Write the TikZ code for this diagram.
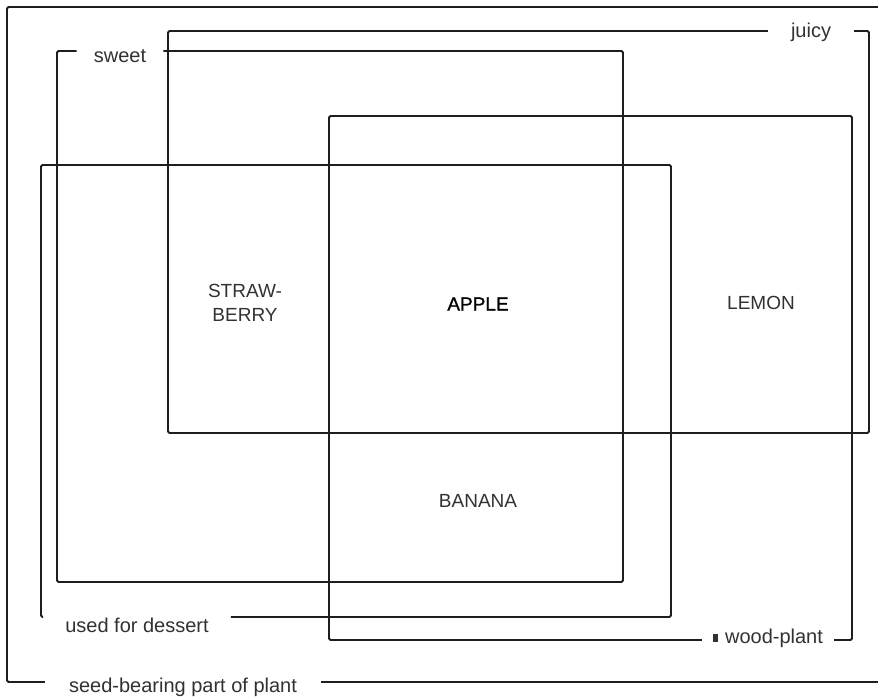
\documentclass[tikz,border=0pt]{standalone}
\usepackage{fontspec}
\setmainfont{Liberation Sans}
\usepackage{tikz}
\usetikzlibrary{positioning,calc}
\definecolor{linegray}{RGB}{30,30,30}
\definecolor{textgray}{RGB}{50,50,50}
\tikzset{
  setline/.style={line width=1.8pt,draw=linegray,rounded corners=1.5pt},
  setlabel/.style={inner ysep=0pt,font=\fontsize{20}{24}\selectfont,text=textgray},
  fruitlabel/.style={inner sep=0pt,align=center,font=\fontsize{19}{24}\selectfont,text=textgray}
}

\begin{document}
\begin{tikzpicture}[x=1pt,y=-1pt]
  \useasboundingbox (0,0) rectangle (878,696);
  \fill[white] (0,0) rectangle (878,696);

  %% Corners of the sets
  \coordinate (oTL) at (7,7);     \coordinate (oTR) at (878,7);
  \coordinate (oBL) at (7,682);   \coordinate (oBR) at (878,682);
  \coordinate (jTL) at (168,31);  \coordinate (jTR) at (869,31);
  \coordinate (jBL) at (168,433); \coordinate (jBR) at (869,433);
  \coordinate (sTL) at (57,51);   \coordinate (sTR) at (623,51);
  \coordinate (sBL) at (57,582);  \coordinate (sBR) at (623,582);
  \coordinate (dTL) at (41,165);  \coordinate (dTR) at (671,165);
  \coordinate (dBL) at (41,617);  \coordinate (dBR) at (671,617);
  \coordinate (wTL) at (329,116); \coordinate (wTR) at (852,116);
  \coordinate (wBL) at (329,640); \coordinate (wBR) at (852,640);

  %% Set labels (breaking the outlines)
  \node[setlabel,inner xsep=24pt] (seed) at (183,687) {seed-bearing part of plant};
  \node[setlabel,inner xsep=23pt] (juicy) at (811,32) {juicy};
  \node[setlabel,inner xsep=17pt] (sweet) at (120,56.5) {sweet};
  \node[setlabel,inner xsep=22pt] (dessert) at (137,625) {used for dessert};
  \node[setlabel,inner xsep=11pt] (wood) at (768,638)
    {\rule[1pt]{5pt}{8pt}\hspace{7pt}wood-plant};

  %% Fruits
  \node[fruitlabel] (straw) at (245,303) {STRAW-\\BERRY};
  \node[fruitlabel,text=black,font=\fontsize{19}{24}\selectfont\addfontfeature{FakeBold=1.2}] (apple) at (478,304) {APPLE};
  \node[fruitlabel] (lemon) at (761,303) {LEMON};
  \node[fruitlabel] (banana) at (478,501) {BANANA};

  %% Outlines
  \draw[setline] (oTR) -- (oTL) -- (oBL) -- (seed.west |- oBL);
  \draw[setline] (seed.east |- oBR) -- (oBR);
  \draw[setline] (juicy.west |- jTL) -- (jTL) -- (jBL) -- (jBR) -- (jTR) -- (juicy.east |- jTR);
  \draw[setline] (sweet.east |- sTR) -- (sTR) -- (sBR) -- (sBL) -- (sTL) -- (sweet.west |- sTL);
  \draw[setline] (dessert.west |- dBL) -- (dBL) -- (dTL) -- (dTR) -- (dBR) -- (dessert.east |- dBR);
  \draw[setline] (wood.east |- wBR) -- (wBR) -- (wTR) -- (wTL) -- (wBL) -- (wood.west |- wBL);
\end{tikzpicture}
\end{document}
